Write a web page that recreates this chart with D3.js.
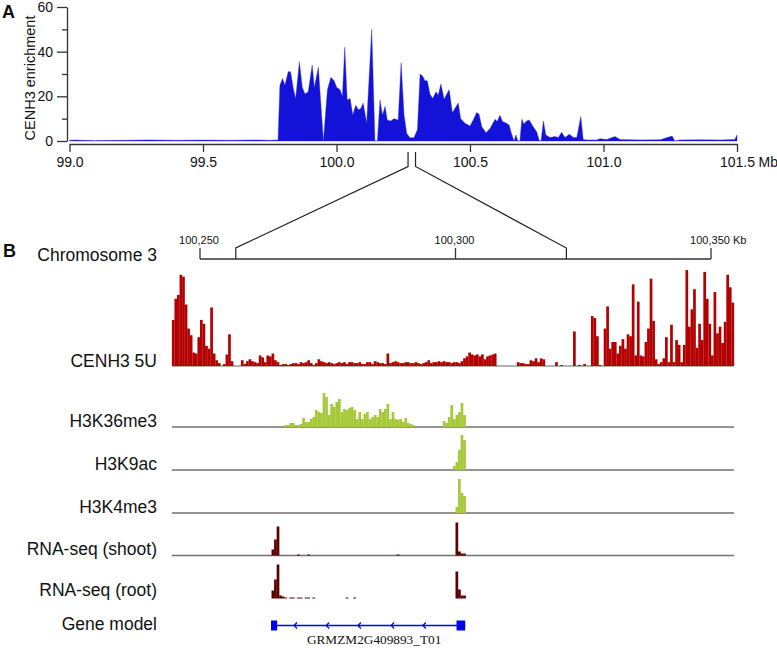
<!DOCTYPE html>
<html><head><meta charset="utf-8">
<script src="https://cdn.jsdelivr.net/npm/d3@7"></script>
<style>body{margin:0;background:#fff} text{font-family:Arial,"Liberation Sans",sans-serif;fill:#111}</style>
</head><body><svg id="c" width="777" height="648"></svg>
<script>
// ---------- Panel A data (Mb, CENH3 enrichment) ----------
const aPos = [99.0,99.02,99.05,99.09,99.096,99.1,99.2,99.3,99.4,99.5,99.6,99.7,99.75,99.781,
99.788,99.798,99.807,99.819,99.828,99.838,99.847,99.861,99.872,99.882,99.894,99.909,99.917,99.932,99.951,
99.966,99.979,99.991,100.001,100.013,100.022,100.031,100.040,100.051,100.061,100.072,100.082,100.091,100.100,100.113,100.132,100.144,100.153,
100.163,100.172,100.182,100.190,100.203,100.215,100.231,100.242,100.253,100.263,100.275,100.290,100.303,
100.313,100.323,100.331,100.340,100.350,100.360,100.373,100.381,100.391,100.403,100.413,100.422,100.434,100.448,100.456,100.465,100.481,
100.500,100.512,100.525,100.534,100.544,100.560,100.575,100.594,100.602,100.612,100.622,100.637,100.647,100.656,100.665,100.672,100.679,100.687,
100.694,100.702,100.712,100.722,100.735,100.750,100.760,100.766,100.775,100.784,100.800,100.818,100.831,100.843,100.856,100.872,100.887,100.900,
100.915,100.924,100.937,100.974,100.987,101.012,101.043,101.062,101.137,101.212,101.257,101.267,101.286,101.361,101.436,101.492,101.5];
const aVal = [0.3,0.5,0.3,0.2,0,0.2,0.3,0.5,0.3,0.4,0.3,0.5,0.3,0.5,
25,28,25,31,31,23.6,19,35.5,24,21,22,34,24,33,0,
23,28.5,27,24,23,20,42,18.4,19,11.6,16,14,14.5,17,8,50,0,0,
18.4,11.6,15.5,9.4,9,10,9.4,35,11.6,3.4,1.5,1.5,5,
30,29,27,27,21,19,22,20.5,25.5,18.7,21,23,12.7,15.4,17,10,8,
6.7,9.4,12.8,12,6.4,3.7,5.6,9.7,8.7,11.5,8.7,8,7,3,0,2.7,0,0,
9.7,7.6,9,9.4,6.7,4,0,0,9,2.7,1.6,2,1.6,3.9,1.6,3,1.6,1.6,
11,0.7,0.5,0.5,1,0.7,2,0.7,0.5,0.6,2.2,0,0.5,0.6,0.5,0.7,2.7];
const aXTicks = [99.0, 99.5, 100.0, 100.5, 101.0, 101.5];
const aYTicks = [0, 20, 40, 60];
const aYMinor = [10, 30, 50];
// zoomed window: as marked on panel A (Mb) and on panel B (kb)
const zoomA = [100.268, 100.296];
const zoomB = [100257, 100321.7];

// ---------- Panel B data (kb) ----------
const bTicks = [100250, 100300, 100350];
const binKb = 0.5;
const cenh3Start = 100244.5;
const cenh3 = [48,70,74,95,93,64,39,32,14,13,
30,48,44,21,18,61,13,6,3,0,
2,12,33,5,0,0,0,6,2,5,
7,5,4,3,11,9,4,11,10,13,
6,4,1,2,2,1,2,3,3,2,
4,3,4,6,3,1,3,7,5,4,
3,4,3,2,3,4,3,4,2,4,
4,3,3,4,2,2,4,4,2,5,
4,3,
3,2,13,3,4,5,4,3,3,4,
4,3,3,4,3,2,3,4,6,3,
4,4,5,4,5,4,4,3,4,4,
3,5,8,10,14,12,11,12,10,12,
7,10,11,12,13,0,0,0,0,0,
0,0,0,4,3,3,2,2,6,5,
8,4,8,7,0,0,0,0,4,0,
1,0,0,0,0,36,0,1,0,2,
0,0,52,50,31,1,0,39,62,18,
25,25,13,21,28,18,33,31,85,11,
67,11,10,25,39,91,47,7,2,4,
8,30,4,43,4,27,22,4,22,100,
41,59,80,19,44,27,98,70,44,11,
77,34,41,24,46,95,82,66];
const h3k36me3 = [[100266.5,[2,2,4,4,2,2,3,9,5,5,8,10,17,15,14,34,30,12,23,20,25,28,15,18,17,19,20,17,8,15,8,13,15,8,10,12,10,18,15,18,23,8,15,8,7,8,5,9,4,3,2]],
                  [100297.5,[6,4,10,22,8,12,15,24,12]]];
const h3k9ac = [[100299.5,[4,8,20,35,30]]];
const h3k4me3 = [[100300,[6,34,20,17]]];
const rnaShoot = [[100264,[6,16,29]],[100269,[1]],[100271,[1]],[100288.5,[1]],[100300,[33,4,2,2]]];
const rnaRoot = [[100264,[8,19,34,3,2,1,0,1,1,0,1,1,0,1,1,0,1,0]],[100278.5,[1]],[100280,[1]],[100300,[27,9,3,3]]];
const geneExons = [[100263.9,100265.1],[100300.2,100301.9]];
const geneArrows = [100268.4,100274.7,100280.9,100287.4,100293.6];
const geneName = "GRMZM2G409893_T01";
const trackLabels = ["CENH3 5U","H3K36me3","H3K9ac","H3K4me3","RNA-seq (shoot)","RNA-seq (root)","Gene model"];

const svg = d3.select("#c");

// ---------- Panel A ----------
const xA = d3.scaleLinear().domain([99, 101.5]).range([69.5, 737]);
const yA = d3.scaleLinear().domain([0, 60]).range([141, 7]);
const aData = aPos.map((p,i)=>[p,aVal[i]]);
svg.append("path").datum(aData)
  .attr("d", d3.area().x(d=>xA(d[0])).y0(yA(0)).y1(d=>yA(d[1])))
  .attr("fill","#1212d8").attr("stroke","#2a2ae0").attr("stroke-width",0.4);

const axX = svg.append("g").attr("transform","translate(0,144)")
  .call(d3.axisBottom(xA).tickValues(aXTicks).tickFormat(d3.format(".1f")).tickSize(8).tickSizeOuter(0).tickPadding(5));
axX.selectAll("text").attr("font-size",14);
const lastLbl = axX.selectAll(".tick text").filter(d=>d===101.5).node();
const lw = lastLbl.getComputedTextLength();
svg.append("text").attr("x", xA(101.5)+lw/2+4).attr("y",144+8+5+0.71*14).attr("font-size",14).text("Mb");

const axY = svg.append("g").attr("transform","translate(67,0)")
  .call(d3.axisLeft(yA).tickValues(aYTicks).tickSize(10).tickSizeOuter(0).tickPadding(4));
axY.selectAll("text").attr("font-size",14);
svg.append("g").attr("transform","translate(67,0)")
  .call(d3.axisLeft(yA).tickValues(aYMinor).tickSize(5).tickFormat(""))
  .select(".domain").remove();
svg.selectAll(".domain, .tick line").attr("stroke","#333").attr("stroke-width",1.3);
svg.append("text").attr("transform","translate(35,78) rotate(-90)").attr("text-anchor","middle")
  .attr("font-size",14.5).text("CENH3 enrichment");
svg.append("text").attr("x",2).attr("y",18).attr("font-size",18).attr("font-weight","bold").text("A");

// ---------- Panel B axis ----------
const xB = d3.scaleLinear().domain([100250, 100350]).range([200, 711]);
const gB = svg.append("g");
gB.append("line").attr("x1",xB(bTicks[0])).attr("x2",xB(bTicks[2])).attr("y1",259).attr("y2",259)
  .attr("stroke","#333").attr("stroke-width",1.3);
let lastB = null;
bTicks.forEach(t=>{
  gB.append("line").attr("x1",xB(t)).attr("x2",xB(t)).attr("y1",259).attr("y2",248).attr("stroke","#333").attr("stroke-width",1.3);
  lastB = gB.append("text").attr("x",xB(t)-1).attr("y",244).attr("text-anchor","middle").attr("font-size",11).text(d3.format(",")(t));
});
gB.append("text").attr("x",xB(100350)-1+lastB.node().getComputedTextLength()/2+3).attr("y",244).attr("font-size",11).text("Kb");

// zoom connectors
[0,1].forEach(i=>{
  const xa = xA(zoomA[i]), xb = xB(zoomB[i]);
  svg.append("path").attr("d",`M${xa},152 L${xa},166.5 L${xb},248 L${xb},259`)
    .attr("fill","none").attr("stroke","#222").attr("stroke-width",1.2);
});

svg.append("text").attr("x",3).attr("y",257).attr("font-size",18).attr("font-weight","bold").text("B");
svg.append("text").attr("x",157).attr("y",261).attr("text-anchor","end").attr("font-size",17.5).text("Chromosome 3");

// ---------- Tracks ----------
const bw = xB(cenh3Start+binKb)-xB(cenh3Start);
const h5U = d3.scaleLinear().domain([0,100]).range([0,96]);
const hTr = d3.scaleLinear().domain([0,40]).range([0,40]);
const xMin = xB(cenh3Start), xMax = xB(cenh3Start + binKb*cenh3.length);

function baseline(y, color){
  svg.append("line").attr("x1",xMin).attr("x2",xMax).attr("y1",y).attr("y2",y)
    .attr("stroke",color).attr("stroke-width",1.4);
}
function bars(segs, y0, h, color){
  const flat = [];
  segs.forEach(([s,vals])=>vals.forEach((v,i)=>{ if(v>0) flat.push([s+i*binKb, v]); }));
  svg.append("g").selectAll("rect").data(flat).join("rect")
    .attr("x",d=>xB(d[0])).attr("width",bw+0.15)
    .attr("y",d=>y0-h(d[1])).attr("height",d=>h(d[1]))
    .attr("fill",color);
}
const labelY = [367, 427, 470, 513, 555, 596, 630];

baseline(366,"#999");
bars([[cenh3Start, cenh3]], 366, h5U, "#b30000");
baseline(427,"#707070"); bars(h3k36me3, 427, hTr, "#a6c83a");
baseline(470,"#707070"); bars(h3k9ac, 470, hTr, "#a6c83a");
baseline(513,"#707070"); bars(h3k4me3, 513, hTr, "#a6c83a");
baseline(555.5,"#707070"); bars(rnaShoot, 555.5, hTr, "#5c0000");
bars(rnaRoot, 598.5, hTr, "#5c0000");

trackLabels.forEach((t,i)=>{
  svg.append("text").attr("x",157).attr("y",labelY[i]).attr("text-anchor","end").attr("font-size",17.5).text(t);
});

// gene model
const gy = 625.5, blue = "#0000ee";
svg.append("line").attr("x1",xB(geneExons[0][0])).attr("x2",xB(geneExons[1][1])).attr("y1",gy).attr("y2",gy)
  .attr("stroke",blue).attr("stroke-width",1.3);
geneExons.forEach(e=>{
  svg.append("rect").attr("x",xB(e[0])).attr("width",xB(e[1])-xB(e[0])).attr("y",gy-5).attr("height",10).attr("fill",blue);
});
geneArrows.forEach(a=>{
  const x = xB(a);
  svg.append("path").attr("d",`M${x+3},${gy-3} L${x},${gy} L${x+3},${gy+3}`).attr("fill","none").attr("stroke",blue).attr("stroke-width",1.2);
});
svg.append("text").attr("x",(xB(geneExons[0][0])+xB(geneExons[1][1]))/2+6).attr("y",644)
  .attr("text-anchor","middle").attr("font-size",13.3).style("font-family","'Liberation Serif','Times New Roman',serif").text(geneName);
</script></body></html>
